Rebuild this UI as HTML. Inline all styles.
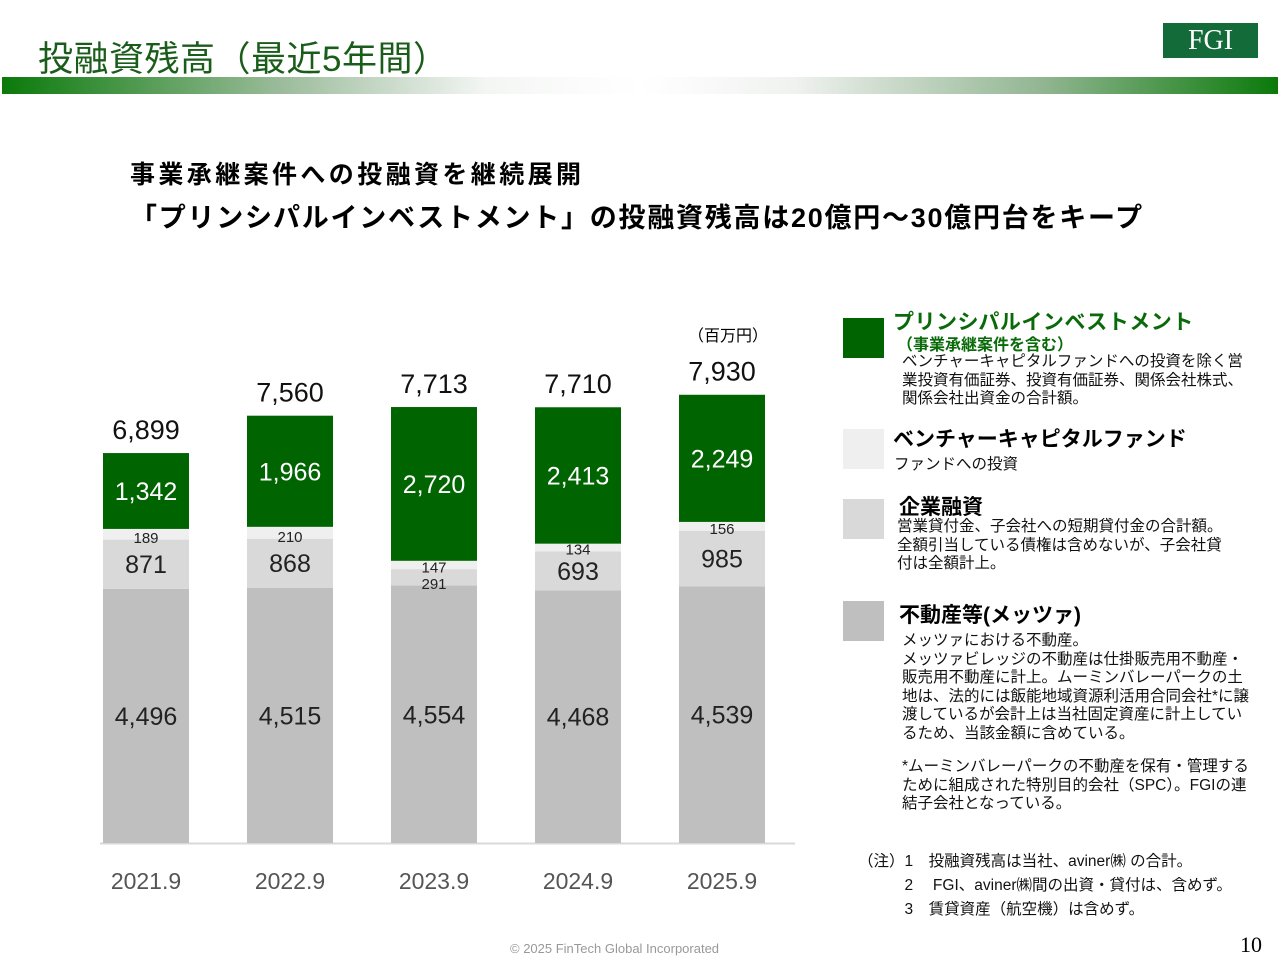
<!DOCTYPE html>
<html><head><meta charset="utf-8"><style>
body{margin:0;width:1280px;height:960px;background:#fff;position:relative;overflow:hidden;font-family:"Liberation Sans","Noto Sans CJK JP",sans-serif;color:#000}
.a{position:absolute;white-space:nowrap}
.sw{position:absolute;left:843px;width:41px;height:40px}
.d{font-size:15.5px;line-height:18.5px;color:#111}
</style></head><body>
<div class="a" style="left:38px;top:31px;font-size:35px;color:#1a5c1a;letter-spacing:0.5px">投融資残高（最近5年間）</div>
<div class="a" style="left:1163px;top:23px;width:95px;height:35px;background:#146b3a;color:#fff;font-family:'Liberation Serif',serif;font-size:28px;text-align:center;line-height:35px">FGI</div>
<div class="a" style="left:2px;top:77px;width:1276px;height:17px;background:linear-gradient(90deg,#0a7a0a 0%,#9cbc9c 22%,#f4f6f4 38%,#fff 50%,#f0f2f0 62%,#8fb48f 82%,#0a7a0a 100%)"></div>
<div class="a" style="left:130px;top:155px;font-size:25px;font-weight:bold;letter-spacing:3.4px">事業承継案件への投融資を継続展開</div>
<div class="a" style="left:130px;top:196px;font-size:27px;font-weight:bold;letter-spacing:1.75px">「プリンシパルインベストメント」の投融資残高は20億円～30億円台をキープ</div>
<div class="a" style="left:688px;top:322px;font-size:16px">（百万円）</div>

<svg id="chart" width="1280" height="960" style="position:absolute;left:0;top:0"></svg>

<div class="sw" style="top:318px;background:#006400"></div>
<div class="a" style="left:893px;top:306px;font-size:21px;font-weight:bold;color:#0a6a0a;letter-spacing:0.5px">プリンシパルインベストメント</div>
<div class="a" style="left:897px;top:331px;font-size:16px;font-weight:bold;color:#0a6a0a">（事業承継案件を含む）</div>
<div class="a d" style="left:902px;top:353px">ベンチャーキャピタルファンドへの投資を除く営<br>業投資有価証券、投資有価証券、関係会社株式、<br>関係会社出資金の合計額。</div>
<div class="sw" style="top:429px;background:#efefef"></div>
<div class="a" style="left:893px;top:423px;font-size:21px;font-weight:bold">ベンチャーキャピタルファンド</div>
<div class="a d" style="left:894px;top:456px">ファンドへの投資</div>
<div class="sw" style="top:499px;background:#d9d9d9"></div>
<div class="a" style="left:899px;top:491px;font-size:21px;font-weight:bold">企業融資</div>
<div class="a d" style="left:897px;top:518px">営業貸付金、子会社への短期貸付金の合計額。<br>全額引当している債権は含めないが、子会社貸<br>付は全額計上。</div>
<div class="sw" style="top:601px;background:#bfbfbf"></div>
<div class="a" style="left:899px;top:599px;font-size:21px;font-weight:bold">不動産等(メッツァ)</div>
<div class="a d" style="left:902px;top:632px">メッツァにおける不動産。<br>メッツァビレッジの不動産は仕掛販売用不動産・<br>販売用不動産に計上。ムーミンバレーパークの土<br>地は、法的には飯能地域資源利活用合同会社*に譲<br>渡しているが会計上は当社固定資産に計上してい<br>るため、当該金額に含めている。</div>
<div class="a d" style="left:902px;top:758px">*ムーミンバレーパークの不動産を保有・管理する<br>ために組成された特別目的会社（SPC）。FGIの連<br>結子会社となっている。</div>
<div class="a d" style="left:858px;top:850px;line-height:24px">（注）1　投融資残高は当社、aviner㈱ の合計。<br>　　　2　 FGI、aviner㈱間の出資・貸付は、含めず。<br>　　　3　賃貸資産（航空機）は含めず。</div>
<div class="a" style="left:510px;top:941px;font-size:13px;color:#999">© 2025 FinTech Global Incorporated</div>
<div class="a" style="left:1240px;top:932px;font-size:22px;font-family:'Liberation Serif',serif">10</div>

<script>
const categories=["2021.9","2022.9","2023.9","2024.9","2025.9"];
const realEstate=[4496,4515,4554,4468,4539];
const loans=[871,868,291,693,985];
const venture=[189,210,147,134,156];
const principal=[1342,1966,2720,2413,2249];
const totals=[6899,7560,7713,7710,7930];

const svg=document.getElementById('chart');
const NS='http://www.w3.org/2000/svg';
const base=843, k=390/6899, x0=146, step=144, bw=86;
const y=v=>base-v*k;
const xc=i=>x0+i*step;
const fmt=v=>v.toLocaleString('en-US');
function mk(tag,attrs,txt){const e=document.createElementNS(NS,tag);for(const a in attrs)e.setAttribute(a,attrs[a]);if(txt!==undefined)e.textContent=txt;svg.appendChild(e);return e;}
const ax=mk('line',{x1:100,x2:795,y1:base+0.5,y2:base+0.5,stroke:'#d9d9d9','stroke-width':2});


const series=[[realEstate,'#bfbfbf','real-estate'],[loans,'#d9d9d9','loans'],[venture,'#efefef','venture'],[principal,'#006400','principal']];
const labels=[];
categories.forEach((c,i)=>{
  let cum=0;
  series.forEach(([arr,col,nm],si)=>{
    const v=arr[i];const top=y(cum+v),bot=y(cum);
    const r=mk('rect',{x:xc(i)-bw/2,y:top,width:bw,height:bot-top,fill:col});
    
    
    const h=bot-top;let ly=(top+bot)/2,fs=25,fill=si===3?'#fff':'#222';
    if(h<20){fs=15;ly=bot-2;}
    labels.push([xc(i),ly+fs*0.36,fs,fill,fmt(v),nm,c]);
    cum+=v;
  });
  const tt=mk('text',{x:xc(i),y:y(totals[i])-14,'text-anchor':'middle','font-size':27,fill:'#111'},fmt(totals[i]));
  
  
  const xl=mk('text',{x:xc(i),y:889,'text-anchor':'middle','font-size':23,fill:'#555'},c);
  
  
});
labels.forEach(([lx,ly,fs,fill,txt,nm,c])=>{
  const t=mk('text',{x:lx,y:ly,'text-anchor':'middle','font-size':fs,fill:fill},txt);
  
  
});
</script>
</body></html>
